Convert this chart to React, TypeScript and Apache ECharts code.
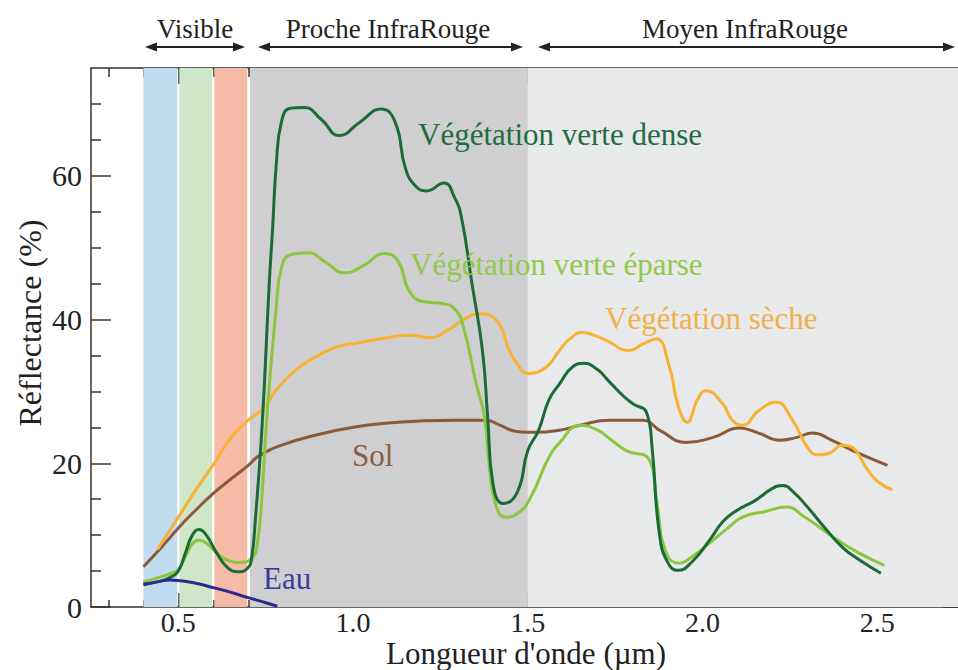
import React, { useEffect, useRef } from "react";
import * as echarts from "echarts";

const SERIF = "'Liberation Serif', 'Times New Roman', serif";

const X_MIN = 0.25;
const X_MAX = 2.745;
const Y_MIN = 0;
const Y_MAX = 75;

const xMajorTicks = [0.5, 1.0, 1.5, 2.0, 2.5];
const xMinorTicks = [0.3, 0.4, 0.6, 0.7, 0.8, 0.9, 1.1, 1.2, 1.3, 1.4, 1.6, 1.7, 1.8, 1.9, 2.1, 2.2, 2.3, 2.4, 2.6, 2.7];
const yMajorTicks = [0, 20, 40, 60];
const yMinorTicks = [5, 10, 15, 25, 30, 35, 45, 50, 55, 65, 70];

// Wavelength (µm), reflectance (%)
const denseVegetation: [number, number][] = [
  [0.4, 3.2], [0.45, 3.6], [0.48, 4.2], [0.5, 5.0], [0.52, 7.5], [0.54, 10.0], [0.56, 10.8], [0.58, 10.0],
  [0.61, 7.5], [0.64, 5.5], [0.67, 4.9], [0.7, 5.5], [0.71, 7.0], [0.72, 12], [0.74, 25.6], [0.76, 45],
  [0.77, 53], [0.78, 61.5], [0.795, 67.5], [0.82, 69.4], [0.86, 69.5], [0.91, 67.8], [0.96, 65.6], [1.02, 67.5],
  [1.08, 69.3], [1.12, 67.5], [1.15, 61], [1.18, 58.5], [1.21, 57.9], [1.26, 59], [1.29, 57], [1.31, 54.2],
  [1.34, 45], [1.37, 35.7], [1.385, 26.4], [1.4, 17.2], [1.43, 14.4], [1.47, 16], [1.5, 21.8], [1.53, 24.5],
  [1.56, 28.8], [1.59, 31], [1.63, 33.5], [1.66, 33.9], [1.7, 33], [1.73, 31.5], [1.77, 29.5], [1.8, 28.3],
  [1.84, 27], [1.856, 21.8], [1.876, 10.3], [1.9, 6.2], [1.93, 5.1], [1.97, 6.3], [2.02, 9.3], [2.06, 12],
  [2.1, 13.5], [2.15, 14.8], [2.2, 16.5], [2.23, 16.9], [2.26, 16], [2.3, 13.9], [2.35, 11], [2.4, 8.3],
  [2.45, 6.5], [2.51, 4.7],
];

const sparseVegetation: [number, number][] = [
  [0.4, 3.5], [0.45, 4.2], [0.48, 4.7], [0.5, 5.2], [0.52, 7], [0.54, 8.8], [0.56, 9.3], [0.58, 8.9],
  [0.61, 7.5], [0.64, 6.5], [0.68, 6.2], [0.71, 6.8], [0.725, 8.5], [0.74, 16], [0.752, 25.6], [0.78, 41.7],
  [0.795, 47.2], [0.82, 49], [0.87, 49.3], [0.92, 48], [0.975, 46.5], [1.03, 47.5], [1.09, 49.2], [1.13, 48],
  [1.16, 44], [1.2, 42.5], [1.26, 42.2], [1.29, 41.5], [1.313, 39.4], [1.352, 31.1], [1.376, 26.4], [1.39, 19.4],
  [1.41, 13.9], [1.438, 12.5], [1.47, 13], [1.504, 14.9], [1.56, 20.8], [1.59, 22.8], [1.65, 25.3], [1.7, 24.6],
  [1.74, 23.2], [1.78, 21.8], [1.848, 20.4], [1.868, 14.9], [1.896, 7.5], [1.934, 6.1], [1.97, 7], [2.02, 8.9],
  [2.07, 10.9], [2.114, 12.5], [2.18, 13.3], [2.24, 13.9], [2.29, 12.6], [2.334, 11.1], [2.39, 9.2], [2.448, 7.5],
  [2.52, 5.8],
];

const dryVegetation: [number, number][] = [
  [0.44, 8.0], [0.5, 12.5], [0.55, 16.3], [0.6, 19.8], [0.65, 23.5], [0.7, 26], [0.74, 27.5], [0.79, 30.8],
  [0.85, 33.5], [0.9, 35], [0.96, 36.3], [1.02, 36.8], [1.1, 37.5], [1.16, 37.8], [1.22, 37.5], [1.27, 38.5],
  [1.313, 39.9], [1.36, 40.8], [1.41, 39.9], [1.447, 35.7], [1.47, 33.8], [1.5, 32.5], [1.553, 33.4], [1.59, 35.7],
  [1.62, 37.3], [1.656, 38.2], [1.69, 37.8], [1.724, 37.1], [1.79, 35.7], [1.83, 36.6], [1.867, 37.3], [1.905, 33.4],
  [1.93, 28], [1.956, 25.7], [1.985, 28.8], [2.01, 30.1], [2.057, 28.3], [2.085, 26], [2.114, 25.3], [2.16, 27.3],
  [2.21, 28.5], [2.257, 26], [2.306, 21.8], [2.335, 21.2], [2.363, 21.4], [2.4, 22.5], [2.428, 22.2], [2.468, 19.4],
  [2.5, 17.5], [2.543, 16.3],
];

const soil: [number, number][] = [
  [0.4, 5.6], [0.45, 8.2], [0.5, 11], [0.55, 13.5], [0.6, 15.8], [0.65, 17.8], [0.7, 19.7], [0.73, 21],
  [0.8, 22.6], [0.9, 24], [1.0, 25], [1.1, 25.6], [1.2, 25.9], [1.3, 26], [1.38, 26], [1.42, 25.3],
  [1.46, 24.5], [1.5, 24.3], [1.59, 24.6], [1.65, 25.3], [1.733, 26], [1.828, 26], [1.88, 24.5], [1.953, 22.9],
  [2.03, 23.6], [2.105, 24.9], [2.16, 24.2], [2.22, 23.2], [2.27, 23.6], [2.314, 24.2], [2.37, 23.2], [2.428, 21.8],
  [2.529, 19.7],
];

const water: [number, number][] = [
  [0.4, 3.1], [0.45, 3.6], [0.474, 3.75], [0.5, 3.7], [0.55, 3.3], [0.6, 2.7], [0.646, 2.1], [0.7, 1.3],
  [0.75, 0.6], [0.783, 0.1],
];

const spectralBands: [number, number][] = [
  [0.4, 0.497], [0.503, 0.597], [0.603, 0.697], [0.705, 1.5], [1.5, X_MAX],
];
const bandColors = ["#c0dcf1", "#d0e6c8", "#f6bba6", "#cfcfd1", "#e8e9eb"];

const seriesNames = ["Sol", "Végétation sèche", "Végétation verte éparse", "Végétation verte dense", "Eau"];
const seriesColors = ["#8a5a3b", "#f8b133", "#8cc63e", "#1b6b36", "#2a2a8c"];
const seriesData = [soil, dryVegetation, sparseVegetation, denseVegetation, water];

const regionLabels = ["Visible", "Proche InfraRouge", "Moyen InfraRouge"];
const xTitle = "Longueur d'onde (µm)";
const yTitle = "Réflectance (%)";

const AXIS_COLOR = "#333";

function tickAxis(position: string, values: number[], length: number, showLine: boolean, kind: "x" | "y") {
  return {
    type: "value",
    position,
    min: kind === "x" ? X_MIN : Y_MIN,
    max: kind === "x" ? X_MAX : Y_MAX,
    axisLine: { show: showLine, onZero: false, lineStyle: { color: AXIS_COLOR, width: 1.5 } },
    axisTick: { show: true, inside: true, length, customValues: values, lineStyle: { color: AXIS_COLOR, width: 1.5 } },
    axisLabel: { show: false },
    splitLine: { show: false },
  };
}

function txt(text: string, x: number, y: number, fontSize: number, fill: string, align = "left", rotation = 0) {
  return {
    type: "text",
    x,
    y,
    rotation,
    z: 20,
    style: {
      text,
      fontSize,
      fontFamily: SERIF,
      fill,
      align,
      textAlign: align,
      verticalAlign: "middle",
      textVerticalAlign: "middle",
    },
  };
}

function arrow(x1: number, x2: number, y: number) {
  const hl = 12;
  const hw = 4.5;
  return [
    { type: "line", z: 20, shape: { x1: x1 + 4, y1: y, x2: x2 - 4, y2: y }, style: { stroke: "#222", lineWidth: 2 } },
    { type: "polygon", z: 20, shape: { points: [[x1, y], [x1 + hl, y - hw], [x1 + hl, y + hw]] }, style: { fill: "#222" } },
    { type: "polygon", z: 20, shape: { points: [[x2, y], [x2 - hl, y - hw], [x2 - hl, y + hw]] }, style: { fill: "#222" } },
  ];
}

export default function App() {
  const ref = useRef<HTMLDivElement>(null);
  useEffect(() => {
    if (!ref.current) return;
    const chart = echarts.init(ref.current, undefined, { renderer: "svg" });
    const option: any = {
      animation: false,
      backgroundColor: "#ffffff",
      grid: { left: 91, right: -5, top: 68, bottom: 63, outerBoundsMode: "none" },
      xAxis: [
        {
          type: "value",
          position: "bottom",
          min: X_MIN,
          max: X_MAX,
          axisLine: { show: true, onZero: false, lineStyle: { color: AXIS_COLOR, width: 1.5 } },
          axisTick: { show: true, inside: true, length: 14, customValues: xMajorTicks, lineStyle: { color: AXIS_COLOR, width: 1.5 } },
          axisLabel: {
            customValues: xMajorTicks,
            formatter: (v: number) => v.toFixed(1),
            fontFamily: SERIF,
            fontSize: 28,
            color: "#222",
            margin: 1,
          },
          splitLine: { show: false },
        },
        tickAxis("bottom", xMinorTicks, 7, false, "x"),
        tickAxis("top", xMajorTicks, 16, true, "x"),
        tickAxis("top", xMinorTicks, 9, false, "x"),
      ],
      yAxis: [
        {
          type: "value",
          position: "left",
          min: Y_MIN,
          max: Y_MAX,
          axisLine: { show: true, onZero: false, lineStyle: { color: AXIS_COLOR, width: 1.5 } },
          axisTick: { show: true, inside: true, length: 20, customValues: yMajorTicks, lineStyle: { color: AXIS_COLOR, width: 1.5 } },
          axisLabel: {
            customValues: yMajorTicks,
            fontFamily: SERIF,
            fontSize: 30,
            color: "#222",
            margin: 9,
          },
          splitLine: { show: false },
        },
        tickAxis("left", yMinorTicks, 10, false, "y"),
        tickAxis("right", yMajorTicks, 20, true, "y"),
        tickAxis("right", yMinorTicks, 15, false, "y"),
      ],
      series: [
        {
          type: "line",
          name: "bands",
          data: [],
          z: 1,
          silent: true,
          markArea: {
            silent: true,
            data: spectralBands.map((b, i) => [
              { xAxis: b[0], itemStyle: { color: bandColors[i], opacity: 1 } },
              { xAxis: b[1] },
            ]),
          },
        },
        ...seriesData.map((d, i) => ({
          type: "line",
          name: seriesNames[i],
          data: d,
          z: 5 + i,
          smooth: 0.5,
          showSymbol: false,
          symbol: "none",
          lineStyle: { color: seriesColors[i], width: 3 },
          itemStyle: { color: seriesColors[i] },
        })),
      ],
      graphic: [
        txt(regionLabels[0], 195, 29, 27, "#222", "center"),
        txt(regionLabels[1], 388, 29, 27, "#222", "center"),
        txt(regionLabels[2], 745, 29, 27, "#222", "center"),
        ...arrow(145, 245, 47),
        ...arrow(258, 523, 47),
        ...arrow(538, 955, 47),
        txt(xTitle, 526, 653, 31, "#222", "center"),
        txt(yTitle, 30, 323, 32, "#222", "center", Math.PI / 2),
        txt(seriesNames[3], 418, 134, 31, "#236b40"),
        txt(seriesNames[2], 410, 264, 31, "#92c84a"),
        txt(seriesNames[1], 605, 318, 31, "#f3b04a"),
        txt(seriesNames[0], 352, 455, 31, "#8a5e40"),
        txt(seriesNames[4], 263, 578, 31, "#3c3c9a"),
      ],
    };
    chart.setOption(option);
    return () => chart.dispose();
  }, []);
  return (
    <div
      ref={ref}
      style={{ position: "absolute", left: 0, top: 0, width: 958, height: 670, background: "#fff" }}
    />
  );
}
